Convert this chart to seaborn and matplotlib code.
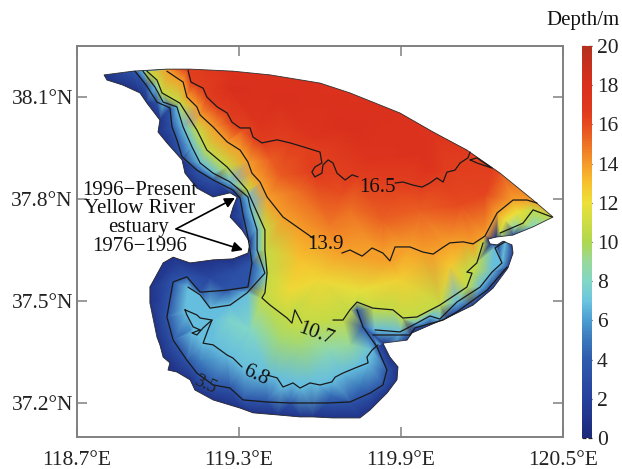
import numpy as np
import pandas as pd
import matplotlib
matplotlib.use("Agg")
import matplotlib.pyplot as plt
import matplotlib.tri as mtri
from matplotlib.colors import LinearSegmentedColormap
from matplotlib.patches import Polygon
import seaborn as sns

# open sea boundary (arc), west tip to east tip, with depth read along it
arc_lon = [118.800, 118.907, 119.033, 119.119, 119.278, 119.415, 119.600, 119.711, 119.896, 120.019, 120.144, 120.267, 120.389, 120.463, 120.389, 120.315]
arc_lat = [38.165, 38.176, 38.182, 38.182, 38.176, 38.165, 38.141, 38.112, 38.053, 37.997, 37.944, 37.876, 37.797, 37.747, 37.718, 37.694]
arc_depth = [1, 3.5, 13.9, 16.5, 17.8, 17.8, 17.8, 17.8, 17.6, 17.4, 16.8, 15.8, 14, 11, 8, 3]

# shoreline, east to west
shore_lon = [120.252, 120.222, 120.230, 120.256, 120.278, 120.311, 120.315, 120.296, 120.241, 120.167, 120.070, 120.007, 119.941, 119.922, 119.833, 119.859, 119.889, 119.885, 119.848, 119.785, 119.748, 119.648, 119.574, 119.526, 119.441, 119.352, 119.304, 119.204, 119.137, 119.119, 119.070, 119.037, 119.044, 119.019, 119.007, 118.996, 118.970, 118.970, 119.019, 119.056, 119.119, 119.204, 119.278, 119.333, 119.341, 119.311, 119.267, 119.278, 119.293, 119.267, 119.204, 119.144, 119.100, 119.089, 119.033, 119.000, 119.007, 118.959, 118.933, 118.870, 118.811]
shore_lat = [37.688, 37.682, 37.668, 37.665, 37.676, 37.665, 37.641, 37.597, 37.538, 37.488, 37.450, 37.429, 37.406, 37.385, 37.376, 37.335, 37.306, 37.268, 37.229, 37.179, 37.156, 37.156, 37.159, 37.159, 37.165, 37.171, 37.185, 37.209, 37.238, 37.268, 37.291, 37.297, 37.318, 37.335, 37.371, 37.394, 37.494, 37.541, 37.612, 37.629, 37.612, 37.621, 37.624, 37.641, 37.671, 37.709, 37.747, 37.776, 37.806, 37.818, 37.806, 37.832, 37.876, 37.915, 37.965, 37.997, 38.032, 38.082, 38.112, 38.135, 38.150]

# isobaths
iso35_a_lon = [118.915, 118.956, 118.996, 119.044, 119.052, 119.070, 119.089, 119.144, 119.204, 119.278, 119.304, 119.315, 119.333, 119.348, 119.333, 119.256, 119.156, 119.107, 119.056, 119.044, 119.033, 119.056, 119.107, 119.144, 119.204, 119.267, 119.315, 119.404, 119.489, 119.626, 119.711, 119.785, 119.833, 119.848, 119.811, 119.759, 119.737]
iso35_a_lat = [38.176, 38.135, 38.085, 38.068, 38.012, 37.974, 37.924, 37.885, 37.856, 37.826, 37.803, 37.753, 37.688, 37.612, 37.541, 37.532, 37.526, 37.571, 37.556, 37.503, 37.453, 37.385, 37.326, 37.288, 37.253, 37.244, 37.209, 37.203, 37.200, 37.200, 37.203, 37.229, 37.253, 37.297, 37.365, 37.424, 37.474]
iso35_b_lon = [119.796, 119.933, 119.952, 120.056, 120.107, 120.219, 120.293]
iso35_b_lat = [37.400, 37.400, 37.421, 37.444, 37.468, 37.532, 37.600]

iso68_a_lon = [118.944, 118.989, 119.019, 119.070, 119.093, 119.126, 119.156, 119.204, 119.267, 119.333, 119.341, 119.367, 119.367, 119.396, 119.330, 119.267, 119.193, 119.156, 119.111]
iso68_a_lat = [38.176, 38.129, 38.085, 38.071, 38.012, 37.953, 37.906, 37.876, 37.850, 37.806, 37.776, 37.709, 37.650, 37.582, 37.524, 37.488, 37.479, 37.518, 37.541]
iso68_loop_lon = [119.100, 119.107, 119.130, 119.156, 119.126, 119.144, 119.167, 119.200, 119.156, 119.144, 119.100]
iso68_loop_lat = [37.474, 37.459, 37.424, 37.415, 37.406, 37.400, 37.421, 37.444, 37.450, 37.459, 37.474]
iso68_b_lon = [119.200, 119.185, 119.167, 119.204, 119.256, 119.278, 119.311]
iso68_b_lat = [37.444, 37.415, 37.376, 37.371, 37.341, 37.332, 37.306]
iso68_d_lon = [119.404, 119.441, 119.463, 119.500, 119.526, 119.563, 119.600, 119.644, 119.656, 119.685, 119.730, 119.778, 119.774, 119.793, 119.815]
iso68_d_lat = [37.282, 37.274, 37.247, 37.259, 37.244, 37.259, 37.253, 37.262, 37.276, 37.288, 37.303, 37.318, 37.335, 37.356, 37.371]
iso68_c_lon = [119.804, 119.896, 119.959, 120.007, 120.044, 120.107, 120.193, 120.237, 120.274, 120.248, 120.285]
iso68_c_lat = [37.415, 37.409, 37.435, 37.456, 37.447, 37.497, 37.541, 37.585, 37.612, 37.656, 37.674]

iso107_a_lon = [118.959, 118.996, 119.015, 119.081, 119.144, 119.181, 119.256, 119.330, 119.396, 119.396, 119.404, 119.396, 119.385, 119.415, 119.478, 119.496, 119.507, 119.533]
iso107_a_lat = [38.176, 38.150, 38.112, 38.082, 38.003, 37.944, 37.894, 37.826, 37.709, 37.650, 37.582, 37.524, 37.509, 37.488, 37.450, 37.435, 37.474, 37.435]
iso107_b_lon = [119.648, 119.685, 119.711, 119.737, 119.796, 119.870, 119.907, 119.959, 120.044, 120.144, 120.163, 120.144, 120.181, 120.204]
iso107_b_lat = [37.444, 37.444, 37.474, 37.497, 37.479, 37.474, 37.450, 37.453, 37.488, 37.541, 37.582, 37.585, 37.612, 37.671]
iso107_c_lon = [120.267, 120.352, 120.389, 120.459]
iso107_c_lat = [37.700, 37.729, 37.768, 37.747]

iso139_a_lon = [119.033, 119.070, 119.093, 119.107, 119.144, 119.156, 119.204, 119.256, 119.304, 119.333, 119.348, 119.378, 119.404, 119.463, 119.515, 119.574]
iso139_a_lat = [38.176, 38.156, 38.144, 38.100, 38.071, 38.047, 38.012, 37.968, 37.944, 37.909, 37.876, 37.850, 37.806, 37.747, 37.718, 37.685]
iso139_b_lon = [119.681, 119.711, 119.756, 119.793, 119.833, 119.859, 119.878, 119.933, 119.981, 120.019, 120.052, 120.081, 120.130, 120.167, 120.211, 120.256, 120.315, 120.367, 120.404]
iso139_b_lat = [37.641, 37.650, 37.632, 37.656, 37.641, 37.618, 37.659, 37.659, 37.644, 37.638, 37.656, 37.671, 37.674, 37.668, 37.691, 37.759, 37.797, 37.797, 37.788]

iso165_a_lon = [119.111, 119.122, 119.144, 119.167, 119.181, 119.219, 119.256, 119.274, 119.304, 119.341, 119.352, 119.385, 119.441, 119.489, 119.552, 119.600, 119.607, 119.581, 119.570, 119.581, 119.607, 119.611, 119.630, 119.648, 119.663, 119.693, 119.719, 119.741]
iso165_a_lat = [38.179, 38.144, 38.135, 38.126, 38.100, 38.071, 38.053, 38.026, 38.009, 38.009, 37.982, 37.965, 37.974, 37.965, 37.950, 37.938, 37.906, 37.894, 37.879, 37.865, 37.876, 37.900, 37.915, 37.906, 37.876, 37.856, 37.871, 37.865]
iso165_b_lon = [119.878, 119.907, 119.944, 119.978, 120.007, 120.033, 120.056, 120.070, 120.100, 120.119, 120.148, 120.156]
iso165_b_lat = [37.847, 37.850, 37.841, 37.835, 37.847, 37.862, 37.850, 37.879, 37.885, 37.906, 37.921, 37.938]
iso165_c_lon = [120.156, 120.181, 120.237, 120.181, 120.156]
iso165_c_lat = [37.915, 37.921, 37.891, 37.906, 37.915]

# soundings read between the isobaths
spot_lon = [119.452, 119.711, 119.970, 119.267, 119.378, 119.563, 119.785, 120.004, 119.526, 119.711, 119.970, 120.119, 119.415, 119.637, 119.833, 120.211, 119.681, 119.896, 119.452, 119.311, 119.600, 119.896, 120.081, 119.526, 119.748, 119.489, 119.526, 119.341, 119.637, 119.711, 119.452, 119.267, 119.637, 119.156, 119.119, 119.748, 119.193, 119.044, 119.285, 119.007, 120.285, 120.333, 120.322]
spot_lat = [38.091, 38.003, 37.929, 38.121, 38.018, 37.988, 37.915, 37.885, 37.826, 37.768, 37.768, 37.782, 37.915, 37.724, 37.738, 37.812, 37.812, 37.812, 37.871, 37.997, 37.562, 37.562, 37.606, 37.621, 37.532, 37.532, 37.371, 37.415, 37.356, 37.371, 37.385, 37.444, 37.224, 37.326, 37.415, 37.253, 37.568, 37.591, 37.585, 37.503, 37.738, 37.762, 37.715]
spot_depth = [18, 18, 17.6, 18, 17.4, 17.4, 17.4, 17.4, 15.2, 15, 15.5, 16, 15.5, 14.8, 15.4, 16.2, 15.8, 16, 15.6, 15.5, 12.3, 12.5, 12.8, 13, 11.8, 12.2, 9.5, 8, 8.5, 9, 9.5, 7.8, 4.8, 5.2, 5.5, 5, 2.5, 1.8, 3, 2, 12, 12, 8.5]
shore_depth = 1

x_ticks = [118.7, 119.3, 119.9, 120.5]
x_tick_labels = ["118.7°E", "119.3°E", "119.9°E", "120.5°E"]
y_ticks = [37.2, 37.5, 37.8, 38.1]
y_tick_labels = ["37.2°N", "37.5°N", "37.8°N", "38.1°N"]
cbar_ticks = list(range(0, 21, 2))

isobaths = [
    (3.5, iso35_a_lon, iso35_a_lat), (3.5, iso35_b_lon, iso35_b_lat),
    (6.8, iso68_a_lon, iso68_a_lat), (6.8, iso68_loop_lon, iso68_loop_lat), (6.8, iso68_b_lon, iso68_b_lat),
    (6.8, iso68_d_lon, iso68_d_lat), (6.8, iso68_c_lon, iso68_c_lat),
    (10.7, iso107_a_lon, iso107_a_lat), (10.7, iso107_b_lon, iso107_b_lat), (10.7, iso107_c_lon, iso107_c_lat),
    (13.9, iso139_a_lon, iso139_a_lat), (13.9, iso139_b_lon, iso139_b_lat),
    (16.5, iso165_a_lon, iso165_a_lat), (16.5, iso165_b_lon, iso165_b_lat), (16.5, iso165_c_lon, iso165_c_lat),
]

sns.set_theme(style="ticks")
plt.rcParams["font.family"] = ["Liberation Serif", "DejaVu Serif"]

# tabla de puntos para triangular el campo de profundidad
rows = [pd.DataFrame({"lon": arc_lon, "lat": arc_lat, "depth": arc_depth}),
        pd.DataFrame({"lon": shore_lon, "lat": shore_lat, "depth": shore_depth}),
        pd.DataFrame({"lon": spot_lon, "lat": spot_lat, "depth": spot_depth})]
for d, lon, lat in isobaths:
    rows.append(pd.DataFrame({"lon": lon, "lat": lat, "depth": d}))
df = pd.concat(rows).drop_duplicates(subset=["lon", "lat"])

cmap = LinearSegmentedColormap.from_list("depth", [
    (0.0, "#1c2a78"), (0.1, "#27409c"), (0.2, "#2f5cad"), (0.25, "#3b78bb"),
    (0.3, "#4c9dd2"), (0.35, "#6cc5e0"), (0.4, "#83d7c6"), (0.45, "#98d89a"),
    (0.5, "#aed84e"), (0.6, "#ece03a"), (0.65, "#f7c22e"), (0.7, "#f59a2a"),
    (0.8, "#e64a1f"), (0.84, "#de381e"), (0.9, "#da301d"), (1.0, "#b5301f")])

fig = plt.figure(figsize=(6.22, 4.69), dpi=100)
ax = fig.add_axes([77 / 622, 1 - 437 / 469, 486 / 622, 391 / 469])

tri = mtri.Triangulation(df["lon"].values, df["lat"].values)
mesh = ax.tripcolor(tri, df["depth"].values, shading="gouraud", cmap=cmap, vmin=0, vmax=20)
outline = Polygon(np.column_stack([arc_lon + shore_lon, arc_lat + shore_lat]), closed=True,
                  fill=False, edgecolor="#303030", linewidth=0.6, transform=ax.transData)
ax.add_patch(outline)
mesh.set_clip_path(outline)

# isobatas
for d, lon, lat in isobaths:
    sns.lineplot(x=lon, y=lat, sort=False, estimator=None, color="#1a1a1a", linewidth=0.9, ax=ax)

ax.text(119.811, 37.835, "16.5", fontsize=15, ha="center", va="center", color="#111111")
ax.text(119.619, 37.665, "13.9", fontsize=15, ha="center", va="center", color="#111111")
ax.text(119.585, 37.403, "10.7", fontsize=15, ha="center", va="center", color="#111111", rotation=-20)
ax.text(119.363, 37.282, "6.8", fontsize=15, ha="center", va="center", color="#111111", rotation=-25)
ax.text(119.174, 37.253, "3.5", fontsize=13, ha="center", va="center", color="#222222", rotation=-25)

ax.text(118.933, 37.826, "1996−Present", fontsize=15, ha="center", va="center", color="#111111")
ax.text(118.933, 37.771, "Yellow River", fontsize=15, ha="center", va="center", color="#111111")
ax.text(118.926, 37.715, "estuary", fontsize=15, ha="center", va="center", color="#111111")
ax.text(118.933, 37.659, "1976−1996", fontsize=15, ha="center", va="center", color="#111111")
for tip in [(119.285, 37.803), (119.315, 37.650)]:
    ax.annotate("", xy=tip, xytext=(119.067, 37.712),
                arrowprops=dict(arrowstyle="-|>", color="black", lw=1.2, mutation_scale=15, shrinkA=0, shrinkB=0))

ax.set_xlim(118.7, 120.5)
ax.set_ylim(37.1, 38.25)
ax.set_xticks(x_ticks, x_tick_labels)
ax.set_yticks(y_ticks, y_tick_labels)
ax.set_xlabel("")
ax.set_ylabel("")
ax.tick_params(direction="in", length=7, width=1.1, color="#808080", labelsize=15.5,
               labelcolor="#222222", top=True, right=True)
ax.tick_params(axis="x", pad=10)
ax.tick_params(axis="y", pad=3)
for s in ax.spines.values():
    s.set_color("#808080")
    s.set_linewidth(1.4)

cax = fig.add_axes([582 / 622, 1 - 438 / 469, 10 / 622, 392 / 469])
cb = fig.colorbar(mesh, cax=cax, ticks=cbar_ticks)
cb.outline.set_visible(False)
cax.tick_params(direction="in", length=3, width=0.9, color="#222222", labelsize=15.5,
                labelcolor="#222222", left=True, right=True, pad=3.5)
fig.text(583 / 622, 1 - 20 / 469, "Depth/m", fontsize=15, ha="center", va="center", color="#111111")

fig.savefig("out.png", dpi=100)
